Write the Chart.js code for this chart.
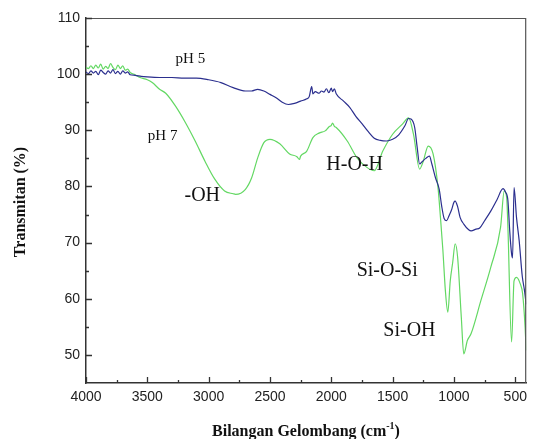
<!DOCTYPE html>
<html>
<head>
<meta charset="utf-8">
<script src="https://cdn.jsdelivr.net/npm/chart.js@4"></script>
<style>
  html, body { margin: 0; padding: 0; background: #fff; }
  #wrap { width: 533px; height: 439px; }
</style>
</head>
<body>
<div id="wrap"><canvas id="ftir" width="533" height="439"></canvas></div>
<script>
// wavenumber (cm-1) and transmittance (%) for each sample
const wavePH5 = [4000, 3980, 3960, 3940, 3920, 3900, 3880, 3860, 3840, 3820, 3800, 3780, 3760, 3740, 3720, 3700, 3680, 3660, 3640,
  3600, 3550, 3500, 3400, 3300, 3200, 3100, 3000, 2900, 2800, 2700, 2650, 2600, 2550, 2500, 2450, 2400, 2350, 2300, 2250,
  2200, 2180, 2160, 2150, 2130, 2100, 2080, 2060, 2040, 2020, 2000, 1990, 1975, 1960, 1900, 1850, 1800, 1750, 1700, 1650,
  1600, 1550, 1500, 1450, 1400, 1370, 1350, 1320, 1300, 1280, 1260, 1230, 1200, 1180, 1150, 1120, 1100, 1080, 1060, 1040,
  1020, 1000, 990, 970, 950, 920, 880, 860, 820, 790, 750, 700, 650, 600, 580, 560, 545, 530, 522, 510, 490, 468, 443, 425, 411];
const pH5 = [100.4, 100.1, 100.6, 100.2, 100.5, 99.9, 100.7, 100.3, 100.0, 100.6, 100.2, 100.8, 100.1, 100.5, 100.0, 100.6, 100.2, 100.4, 99.9,
  99.8, 99.6, 99.5, 99.4, 99.4, 99.3, 99.3, 99.0, 98.5, 97.6, 97.0, 97.0, 97.3, 97.0, 96.4, 95.8, 95.0, 94.6, 94.8, 95.2,
  95.6, 96.0, 97.8, 96.5, 96.9, 96.6, 97.0, 96.8, 97.4, 96.7, 97.5, 96.9, 97.4, 96.5, 95.2, 94.1, 92.5, 91.2, 89.8, 88.6,
  88.2, 88.1, 88.4, 89.2, 90.8, 92.1, 92.0, 90.5, 87.0, 84.0, 84.4, 85.0, 85.4, 84.0, 81.5, 79.5, 76.5, 74.3, 73.9, 74.8,
  75.8, 77.2, 77.4, 76.4, 74.5, 73.3, 72.3, 72.1, 72.4, 72.6, 73.9, 75.6, 77.6, 79.6, 79.0, 77.5, 72.0, 68.0, 67.3, 79.8, 74.5, 70.3, 64.0, 61.5, 59.0];

const wavePH7 = [4000, 3980, 3960, 3940, 3920, 3900, 3880, 3860, 3840, 3820, 3800, 3780, 3760, 3740, 3720, 3700, 3680, 3660, 3640,
  3600, 3560, 3500, 3460, 3400, 3350, 3270, 3190, 3110, 3030, 2950, 2870, 2800, 2780, 2700, 2650, 2600, 2550, 2500, 2420,
  2340, 2280, 2260, 2250, 2200, 2150, 2100, 2050, 2020, 2000, 1990, 1975, 1960, 1870, 1790, 1710, 1650, 1580, 1500, 1420,
  1370, 1330, 1280, 1250, 1210, 1170, 1130, 1110, 1090, 1070, 1050, 1030, 1010, 990, 970, 940, 920, 890, 860, 780, 700,
  620, 590, 570, 560, 530, 510, 490, 460, 440, 420, 411];
const pH7 = [101.2, 101.0, 101.5, 101.0, 101.6, 101.1, 101.8, 100.9, 101.4, 101.0, 101.9, 101.2, 100.8, 101.6, 101.0, 101.5, 100.7, 100.9, 100.3,
  99.9, 99.4, 99.0, 98.5, 97.3, 96.6, 94.3, 91.4, 88.1, 84.5, 81.3, 79.2, 78.7, 78.6, 79.5, 81.5, 85.1, 87.8, 88.4, 87.6,
  85.8, 85.3, 84.8, 85.4, 86.3, 88.7, 89.5, 89.9, 90.6, 90.9, 91.3, 90.7, 90.5, 88.1, 85.1, 83.4, 82.8, 86.3, 89.3, 91.1,
  92.2, 89.3, 83.1, 84.5, 87.2, 85.8, 79.8, 74.5, 68.6, 61.5, 57.6, 63.2, 66.5, 69.8, 67.4, 56.7, 50.2, 52.6, 53.8, 59.7, 65.6,
  72.7, 79.2, 78.0, 72.7, 52.3, 63.2, 63.8, 62.7, 60.9, 55.0, 50.8];

const xTicks = [4000, 3500, 3000, 2500, 2000, 1500, 1000, 500];
const yTicks = [50, 60, 70, 80, 90, 100, 110];

// band labels placed at (wavenumber, transmittance)
const bandLabels = [
  { text: 'pH 5', wave: 3149, t: 102.7, size: 15 },
  { text: 'pH 7', wave: 3375, t: 89.0, size: 15 },
  { text: '-OH', wave: 3052, t: 78.3, size: 20 },
  { text: 'H-O-H', wave: 1810, t: 83.8, size: 20 },
  { text: 'Si-O-Si', wave: 1544, t: 65.0, size: 20 },
  { text: 'Si-OH', wave: 1363, t: 54.3, size: 20 },
];

const toPoints = (xs, ys) => xs.map((x, i) => ({ x, y: ys[i] }));

const frameAndLabels = {
  id: 'frameAndLabels',
  afterDraw(chart) {
    const { ctx, chartArea: a, scales: { x, y } } = chart;
    ctx.save();

    // top / right frame
    ctx.strokeStyle = '#555';
    ctx.lineWidth = 1.2;
    ctx.beginPath();
    ctx.moveTo(a.left, a.top + 0.5);
    ctx.lineTo(a.right - 0.5, a.top + 0.5);
    ctx.lineTo(a.right - 0.5, a.bottom);
    ctx.stroke();

    // inward ticks, major + minor
    ctx.strokeStyle = '#333';
    ctx.lineWidth = 1.3;
    ctx.beginPath();
    for (let v = 4000; v >= 500; v -= 250) {
      const px = Math.round(x.getPixelForValue(v)) + 0.5;
      const len = v % 500 === 0 ? 6 : 3;
      ctx.moveTo(px, a.bottom);
      ctx.lineTo(px, a.bottom - len);
    }
    for (let v = 50; v <= 110; v += 5) {
      const py = Math.round(y.getPixelForValue(v)) + 0.5;
      const len = v % 10 === 0 ? 6 : 3;
      ctx.moveTo(a.left, py);
      ctx.lineTo(a.left + len, py);
    }
    ctx.stroke();

    // band labels
    ctx.fillStyle = '#111';
    ctx.textAlign = 'center';
    ctx.textBaseline = 'middle';
    bandLabels.forEach(l => {
      ctx.font = l.size + 'px "Liberation Serif", "Times New Roman", serif';
      ctx.fillText(l.text, x.getPixelForValue(l.wave), y.getPixelForValue(l.t));
    });

    // axis titles
    ctx.font = 'bold 16px "Liberation Serif", "Times New Roman", serif';
    ctx.textBaseline = 'alphabetic';
    const main = 'Bilangan Gelombang (cm';
    const sup = '-1';
    const close = ')';
    const wMain = ctx.measureText(main).width;
    const wClose = ctx.measureText(close).width;
    ctx.font = 'bold 10px "Liberation Serif", "Times New Roman", serif';
    const wSup = ctx.measureText(sup).width;
    const total = wMain + wSup + wClose;
    let tx = 306 - total / 2;
    const ty = 436;
    ctx.textAlign = 'left';
    ctx.font = 'bold 16px "Liberation Serif", "Times New Roman", serif';
    ctx.fillText(main, tx, ty);
    ctx.font = 'bold 10px "Liberation Serif", "Times New Roman", serif';
    ctx.fillText(sup, tx + wMain, ty - 7);
    ctx.font = 'bold 16px "Liberation Serif", "Times New Roman", serif';
    ctx.fillText(close, tx + wMain + wSup, ty);

    ctx.translate(25, 202);
    ctx.rotate(-Math.PI / 2);
    ctx.textAlign = 'center';
    ctx.fillText('Transmitan (%)', 0, 0);
    ctx.restore();
  }
};

new Chart(document.getElementById('ftir'), {
  type: 'line',
  data: {
    datasets: [
      {
        label: 'pH 5',
        data: toPoints(wavePH5, pH5),
        borderColor: '#2b2f8e',
        borderWidth: 1.2,
        pointRadius: 0,
        cubicInterpolationMode: 'monotone',
      },
      {
        label: 'pH 7',
        data: toPoints(wavePH7, pH7),
        borderColor: '#63d863',
        borderWidth: 1.2,
        pointRadius: 0,
        cubicInterpolationMode: 'monotone',
      },
    ],
  },
  options: {
    responsive: false,
    animation: false,
    layout: { padding: { top: 18, right: 2, left: 0, bottom: 0 } },
    plugins: { legend: { display: false }, tooltip: { enabled: false } },
    scales: {
      x: {
        type: 'linear',
        reverse: true,
        min: 411,
        max: 4000,
        afterBuildTicks: s => { s.ticks = xTicks.map(v => ({ value: v })); },
        afterFit: s => { s.height = 56; },
        grid: { display: false, drawTicks: false },
        border: { display: true, color: '#333', width: 1.5 },
        ticks: {
          padding: 6,
          maxRotation: 0,
          color: '#222',
          font: { family: '"Liberation Sans", Arial, sans-serif', size: 14 },
          callback: v => String(v),
        },
      },
      y: {
        min: 45,
        max: 110,
        afterBuildTicks: s => { s.ticks = yTicks.map(v => ({ value: v })); },
        afterFit: s => { s.width = 86; },
        grid: { display: false, drawTicks: false },
        border: { display: true, color: '#333', width: 1.5 },
        ticks: {
          padding: 6,
          color: '#222',
          font: { family: '"Liberation Sans", Arial, sans-serif', size: 14 },
          callback: v => String(v),
        },
      },
    },
  },
  plugins: [frameAndLabels],
});
</script>
</body>
</html>
